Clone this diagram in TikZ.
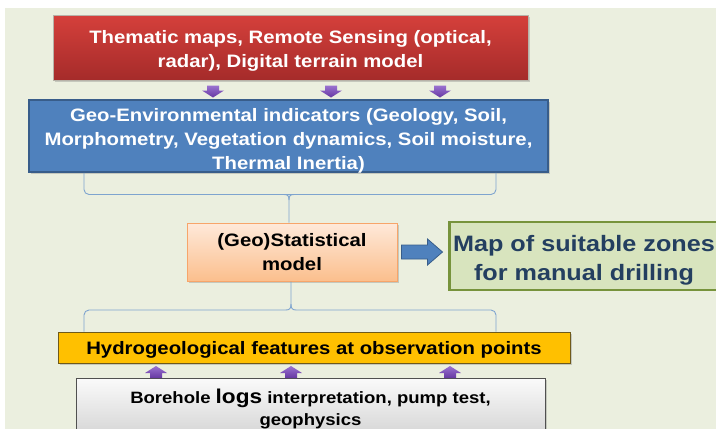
\documentclass[tikz,border=0pt]{standalone}
\usepackage{fontspec}
\setmainfont{Liberation Sans}[FakeStretch=1.13]
\usetikzlibrary{shadows,calc}

\definecolor{bg}{HTML}{EBEFDF}
\definecolor{redtop}{HTML}{D5403B}
\definecolor{redbot}{HTML}{A52B2A}
\definecolor{redline}{HTML}{B7B2A8}
\definecolor{bluefill}{HTML}{4F81BD}
\definecolor{blueline}{HTML}{385D8A}
\definecolor{orangetop}{HTML}{FEE9DA}
\definecolor{orangebot}{HTML}{FBBF8D}
\definecolor{orangeline}{HTML}{F7A56A}
\definecolor{greenfill}{HTML}{D8E4BE}
\definecolor{greenline}{HTML}{77933C}
\definecolor{greentext}{HTML}{243F60}
\definecolor{yellowfill}{HTML}{FFC000}
\definecolor{yellowline}{HTML}{6F5A1A}
\definecolor{graytop}{HTML}{FAFAFA}
\definecolor{graybot}{HTML}{D2D2D2}
\definecolor{grayline}{HTML}{505050}
\definecolor{bracecol}{HTML}{7EA4CF}
\definecolor{purptop}{HTML}{9A72D0}
\definecolor{purpbot}{HTML}{6638A2}

\tikzset{
  box/.style={rectangle, inner sep=0pt,
    drop shadow={shadow xshift=1.5pt, shadow yshift=-1.5pt, opacity=0.35}},
  bodytext/.style={align=center, inner sep=0pt, font=\fontsize{18}{24}\selectfont\bfseries},
  redbox/.style={box, top color=redtop, bottom color=redbot,
    draw=redline, line width=0.8pt},
  bluebox/.style={box, fill=bluefill, draw=blueline, line width=1.6pt},
  orangebox/.style={box, bodytext, top color=orangetop, bottom color=orangebot,
    draw=orangeline, line width=1pt, text=black},
  greenbox/.style={rectangle, inner sep=0pt, fill=greenfill,
    draw=greenline, line width=2.8pt},
  greentextstyle/.style={text=greentext, align=center, inner sep=0pt,
    font=\fontsize{22.3}{29}\selectfont\bfseries},
  yellowbox/.style={box, fill=yellowfill, draw=yellowline, line width=0.8pt},
  graybox/.style={box, align=center, font=\fontsize{16.4}{22}\selectfont\bfseries,
    top color=graytop, bottom color=graybot, draw=grayline,
    line width=0.8pt, text=black},
  brace/.style={draw=bracecol, line width=0.9pt, rounded corners=5pt},
  braceline/.style={draw=bracecol, line width=0.9pt},
  purparrow/.style={top color=purptop, bottom color=purpbot, draw=none},
  blockarrow/.style={fill=bluefill, draw=blueline, line width=0.8pt},
  pdown/.pic={\path[purparrow] (-6,-6) -- (6,-6) -- (6,-1) -- (11,-1)
      -- (0,6) -- (-11,-1) -- (-6,-1) -- cycle;},
  pup/.pic={\path[purparrow] (-6,6) -- (6,6) -- (6,1) -- (11,1)
      -- (0,-6) -- (-11,1) -- (-6,1) -- cycle;}
}

\begin{document}
\begin{tikzpicture}[x=1pt, y=-1pt]
  \clip (0,0) rectangle (716,429);
  \fill[white] (0,0) rectangle (716,429);
  \fill[bg] (5,8) rectangle (716,429);

  % input data
  \node[redbox, minimum width=475pt, minimum height=65pt] (src) at (290.5,47.5) {};
  \node[bodytext, text=white] (srctext) at ($(src.center)+(0,3.5)$)
    {Thematic maps, Remote Sensing (optical,\\radar), Digital terrain model};

  % indicators
  \node[bluebox, minimum width=519pt, minimum height=72pt] (ind) at (288.5,136) {};
  \node[bodytext, text=white] (indtext) at ($(ind.center)+(0,5)$)
    {Geo-Environmental indicators (Geology, Soil,\\Morphometry, Vegetation dynamics, Soil moisture,\\Thermal Inertia)};

  % small arrows from sources to indicators
  \pic (d1) at (213,91.5) {pdown};
  \pic (d2) at (331,91.5) {pdown};
  \pic (d3) at (440,91.5) {pdown};

  % model
  \node[orangebox, minimum width=210pt, minimum height=58pt] (mod) at (292,252)
    {(Geo)Statistical\\model};

  % result
  \node[greenbox, minimum width=276pt, minimum height=68pt, anchor=west] (map) at (448,256) {};
  \node[greentextstyle] (maptext) at (584,260)
    {Map of suitable zones\\for manual drilling};

  % arrow model -> map
  \coordinate (ba0) at ($(mod.east)+(4,0)$);
  \draw[blockarrow] ($(ba0)+(0,-7)$) -- ++(26,0) -- ++(0,-6) -- ++(15,13)
    -- ++(-15,13) -- ++(0,-6) -- ++(-26,0) -- cycle;

  % observation features
  \node[yellowbox, minimum width=512pt, minimum height=31pt] (obs) at (314,347.5) {};
  \node[bodytext, text=black] (obstext) at ($(obs.center)+(0,2)$)
    {Hydrogeological features at observation points};

  % field data
  \node[graybox, minimum width=469pt, minimum height=62pt, anchor=north] (fld) at (310.5,378)
    {Borehole {\fontsize{20}{22}\selectfont logs} interpretation, pump test,\\geophysics};

  % small arrows from field data to observations
  \pic (u1) at (156,372) {pup};
  \pic (u2) at (291,372) {pup};
  \pic (u3) at (450,372) {pup};

  % brace gathering the indicators into the model
  \coordinate (b1l) at (84,0 |- ind.south);
  \coordinate (b1r) at (496,0 |- ind.south);
  \coordinate (b1t) at (289,0 |- mod.north);
  \draw[brace] (b1l) -- (84,194.5) -- (289,194.5);
  \draw[brace] (b1r) -- (496,194.5) -- (289,194.5);
  \draw[braceline] (284,194.5) .. controls (288,194.5) and (289,196) .. (289,200)
    -- (b1t);
  \draw[braceline] (294,194.5) .. controls (290,194.5) and (289,196) .. (289,200);

  % brace spreading the model onto the observations
  \coordinate (b2t) at (291,0 |- mod.south);
  \coordinate (b2l) at (84,0 |- obs.north);
  \coordinate (b2r) at (496,0 |- obs.north);
  \draw[braceline] (b2t) -- (291,304)
    .. controls (291,308) and (292,310) .. (296,310);
  \draw[braceline] (291,304)
    .. controls (291,308) and (290,310) .. (286,310);
  \draw[brace] (296,310) -- (496,310) -- (b2r);
  \draw[brace] (286,310) -- (84,310) -- (b2l);
\end{tikzpicture}
\end{document}
